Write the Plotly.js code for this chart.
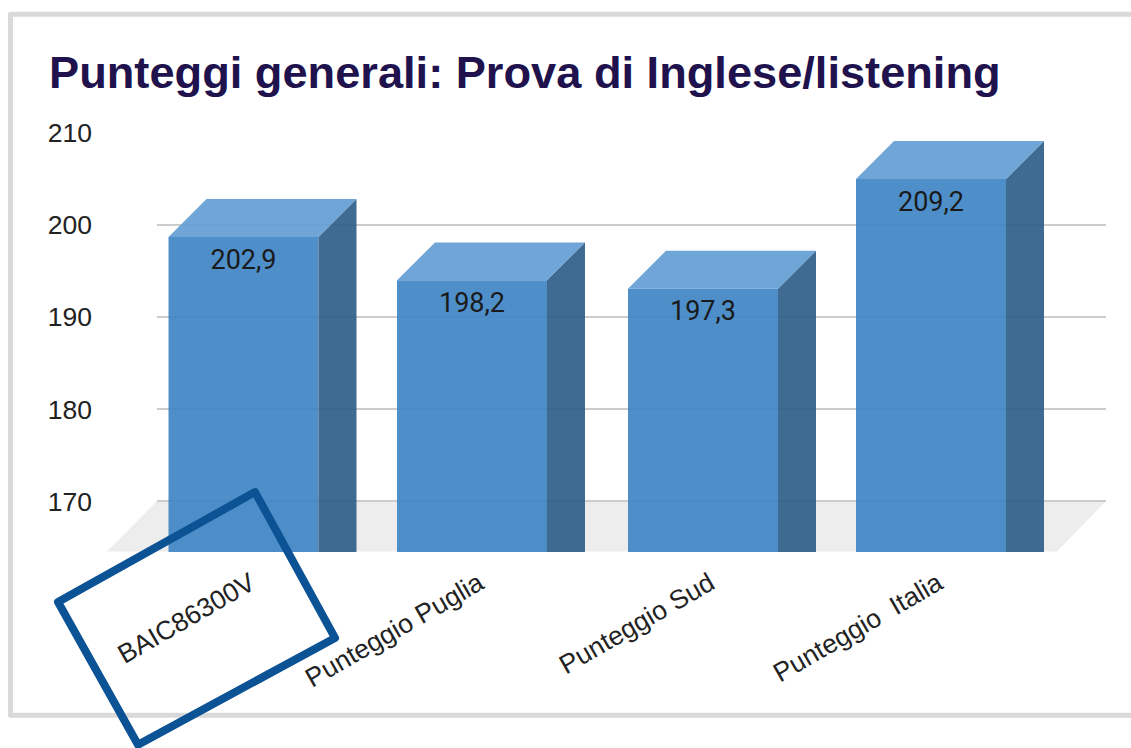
<!DOCTYPE html>
<html>
<head>
<meta charset="utf-8">
<script src="https://cdn.plot.ly/plotly-3.0.1.min.js"></script>
<style>html,body{margin:0;padding:0;background:#fff}#chart{width:1131px;height:748px}.shapelayer path{stroke-linejoin:round}</style>
</head>
<body>
<div id="chart"></div>
<script>
const categories = ["BAIC86300V", "Punteggio Puglia", "Punteggio Sud", "Punteggio  Italia"];
const values = [202.9, 198.2, 197.3, 209.2];
const yTicks = [170, 180, 190, 200, 210];

const W = 1131, H = 748;
const plotL = 157, plotR = 1106, plotT = 132.5, plotB = 552;
const pxPerCat = 229.3, firstCenterPx = 243.5;
const slotPx = [243.5, 472, 703, 931];
const yMin = 164.5, yMax = 210;
const pxPerUnit = (plotB - plotT) / (yMax - yMin);
const xMin = (plotL - firstCenterPx) / pxPerCat;
const xMax = (plotR - firstCenterPx) / pxPerCat;
const barW = 150 / pxPerCat, dx = 38 / pxPerCat, dy = 38 / pxPerUnit, calib = 0.08;
const labelDrop = 25 / pxPerUnit, tickShift = 7 / pxPerCat;

const pos = slotPx.map(p => (p - firstCenterPx) / pxPerCat);
const frontTop = values.map(v => v - calib - dy);

const sideX = [], sideY = [], topX = [], topY = [];
values.forEach((v, i) => {
  const l = pos[i] - barW / 2, r = pos[i] + barW / 2, f = frontTop[i], b = v - calib;
  sideX.push(r, r + dx, r + dx, r, r, null);
  sideY.push(f, b, yMin, yMin, f, null);
  topX.push(l, r, r + dx, l + dx, l, null);
  topY.push(f, f, b, b, f, null);
});

const paperX = x => (x - plotL) / (plotR - plotL);
const paperY = y => (plotB - y) / (plotB - plotT);
const toPaperPath = pts => pts.map((p, i) => (i ? 'L' : 'M') + paperX(p[0]) + ',' + paperY(p[1])).join(' ');

const traces = [
  { type: 'bar', x: pos, y: frontTop.map(v => v - yMin), base: yMin, width: barW,
    marker: { color: 'rgba(63,133,198,0.92)', line: { width: 0 } }, hoverinfo: 'skip' },
  { type: 'scatter', mode: 'lines', x: sideX, y: sideY, fill: 'toself', fillcolor: 'rgba(47,93,137,0.92)',
    line: { width: 0 }, hoverinfo: 'skip' },
  { type: 'scatter', mode: 'lines', x: topX, y: topY, fill: 'toself', fillcolor: 'rgba(99,157,212,0.92)',
    line: { width: 0 }, hoverinfo: 'skip' },
  { type: 'scatter', mode: 'text', x: pos, y: frontTop.map(v => v - labelDrop),
    text: values.map(v => v.toFixed(1).replace('.', ',')), textposition: 'middle center',
    textfont: { family: 'Roboto', size: 27, color: '#1a1a1a' }, hoverinfo: 'skip' }
];

const layout = {
  width: W, height: H, autosize: false, showlegend: false,
  paper_bgcolor: '#ffffff', plot_bgcolor: 'rgba(0,0,0,0)',
  margin: { l: plotL, r: W - plotR, t: plotT, b: H - plotB, pad: 0 },
  title: { text: 'Punteggi generali: Prova di Inglese/listening', x: 49 / W, xanchor: 'left', xref: 'container',
    y: 1 - 72 / H, yanchor: 'middle', yref: 'container',
    font: { family: 'Liberation Sans', size: 45.2, color: '#20124d', weight: 700 } },
  xaxis: { range: [xMin, xMax], tickmode: 'array', tickvals: pos.map(p => p + tickShift), ticktext: categories, tickangle: -30,
    showgrid: false, zeroline: false, showline: false, ticks: '', ticklabelstandoff: 10,
    tickfont: { family: 'Liberation Sans', size: 26.5, color: '#222222' }, automargin: false },
  yaxis: { range: [yMin, yMax], tickmode: 'array', tickvals: yTicks, showgrid: true, gridcolor: '#cccccc', gridwidth: 2,
    zeroline: false, showline: false, ticks: '', ticklabelstandoff: 64,
    tickfont: { family: 'Liberation Sans', size: 26.5, color: '#222222' }, automargin: false },
  shapes: [
    { type: 'path', xref: 'paper', yref: 'paper', layer: 'below', line: { width: 0 }, fillcolor: '#ededed',
      path: toPaperPath([[107, 551.5], [157, 501], [1106, 501], [1057, 551.5]]) + ' Z' },
    { type: 'path', xref: 'paper', yref: 'paper', layer: 'above', line: { color: '#d9d9d9', width: 5 },
      fillcolor: 'rgba(0,0,0,0)',
      path: toPaperPath([[1160, 13.5], [10.5, 13.5], [10.5, 715.5], [1160, 715.5]]) },
    { type: 'path', xref: 'paper', yref: 'paper', layer: 'above', line: { color: '#0b5394', width: 8 },
      fillcolor: 'rgba(0,0,0,0)',
      path: toPaperPath([[255, 492], [335, 638], [138, 745], [58, 602]]) + ' Z' }
  ]
};

Plotly.newPlot('chart', traces, layout, { displayModeBar: false, responsive: false, staticPlot: true });
</script>
</body>
</html>
